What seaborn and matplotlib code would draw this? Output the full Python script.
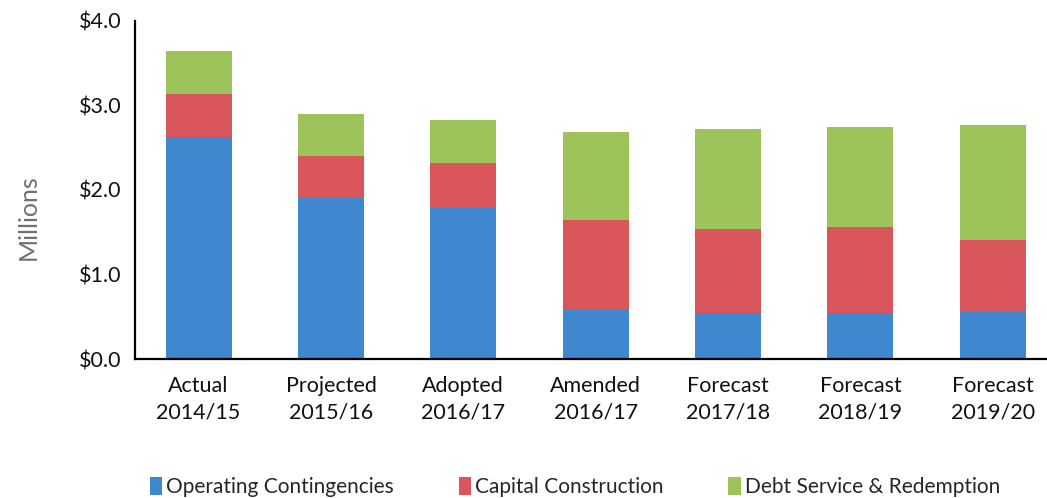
import numpy as np
import pandas as pd
import matplotlib
matplotlib.use("Agg")
import matplotlib.pyplot as plt
import seaborn as sns
from matplotlib.patches import Patch

# Fund balance components, in millions of dollars
categories = ["Actual\n2014/15", "Projected\n2015/16", "Adopted\n2016/17", "Amended\n2016/17",
              "Forecast\n2017/18", "Forecast\n2018/19", "Forecast\n2019/20"]
operating = [2.63, 1.91, 1.79, 0.58, 0.54, 0.55, 0.56]
capital = [0.51, 0.49, 0.53, 1.07, 1.00, 1.01, 0.85]
debt = [0.50, 0.50, 0.51, 1.04, 1.18, 1.18, 1.36]
series_names = ["Operating Contingencies", "Capital Construction", "Debt Service & Redemption"]
y_ticks = [0.0, 1.0, 2.0, 3.0, 4.0]

colors = ["#3f87cf", "#d9575b", "#9cc45a"]

sns.set_theme(style="white")
plt.rcParams["font.family"] = ["Lato", "DejaVu Sans"]

df = pd.DataFrame({"category": categories,
                   "operating": operating,
                   "capital": capital,
                   "debt": debt})
df["cum_op"] = df["operating"]
df["cum_cap"] = df["cum_op"] + df["capital"]
df["cum_debt"] = df["cum_cap"] + df["debt"]

fig = plt.figure(figsize=(10.47, 4.98), dpi=100)
ax = fig.add_axes([0.129, 0.279, 0.871, 0.679])

# Stacked bars: draw the tallest cumulative layer first, then overlay lower layers
for col, c in zip(["cum_debt", "cum_cap", "cum_op"], colors[::-1]):
    sns.barplot(data=df, x="category", y=col, color=c, width=0.5,
                saturation=1, ax=ax, edgecolor="none", linewidth=0)

ax.set_xlim(-0.48, 6.41)
ax.set_ylim(0, 4.0)
ax.set_yticks(y_ticks)
ax.set_yticklabels([f"${v:.1f}" for v in y_ticks], fontsize=15.5, color="#111111")
ax.tick_params(axis="x", labelsize=15.5, colors="#111111", pad=12, length=0)
for lbl in ax.get_xticklabels():
    lbl.set_linespacing(1.45)
ax.tick_params(axis="y", length=0, pad=10)
ax.set_xlabel("")
ax.set_ylabel("Millions", fontsize=18, color="#707070")
ax.yaxis.set_label_coords(-0.105, 0.42)

for s in ["top", "right"]:
    ax.spines[s].set_visible(False)
for s in ["left", "bottom"]:
    ax.spines[s].set_color("black")
    ax.spines[s].set_linewidth(1.6)

handles = [Patch(facecolor=c, edgecolor="none") for c in colors]
fig.legend(handles, series_names, loc="lower left", bbox_to_anchor=(0.125, -0.036),
           ncol=3, frameon=False, fontsize=15, handlelength=0.6, handleheight=0.9,
           handletextpad=0.2, columnspacing=3.1)

fig.savefig("out.png", dpi=100)
